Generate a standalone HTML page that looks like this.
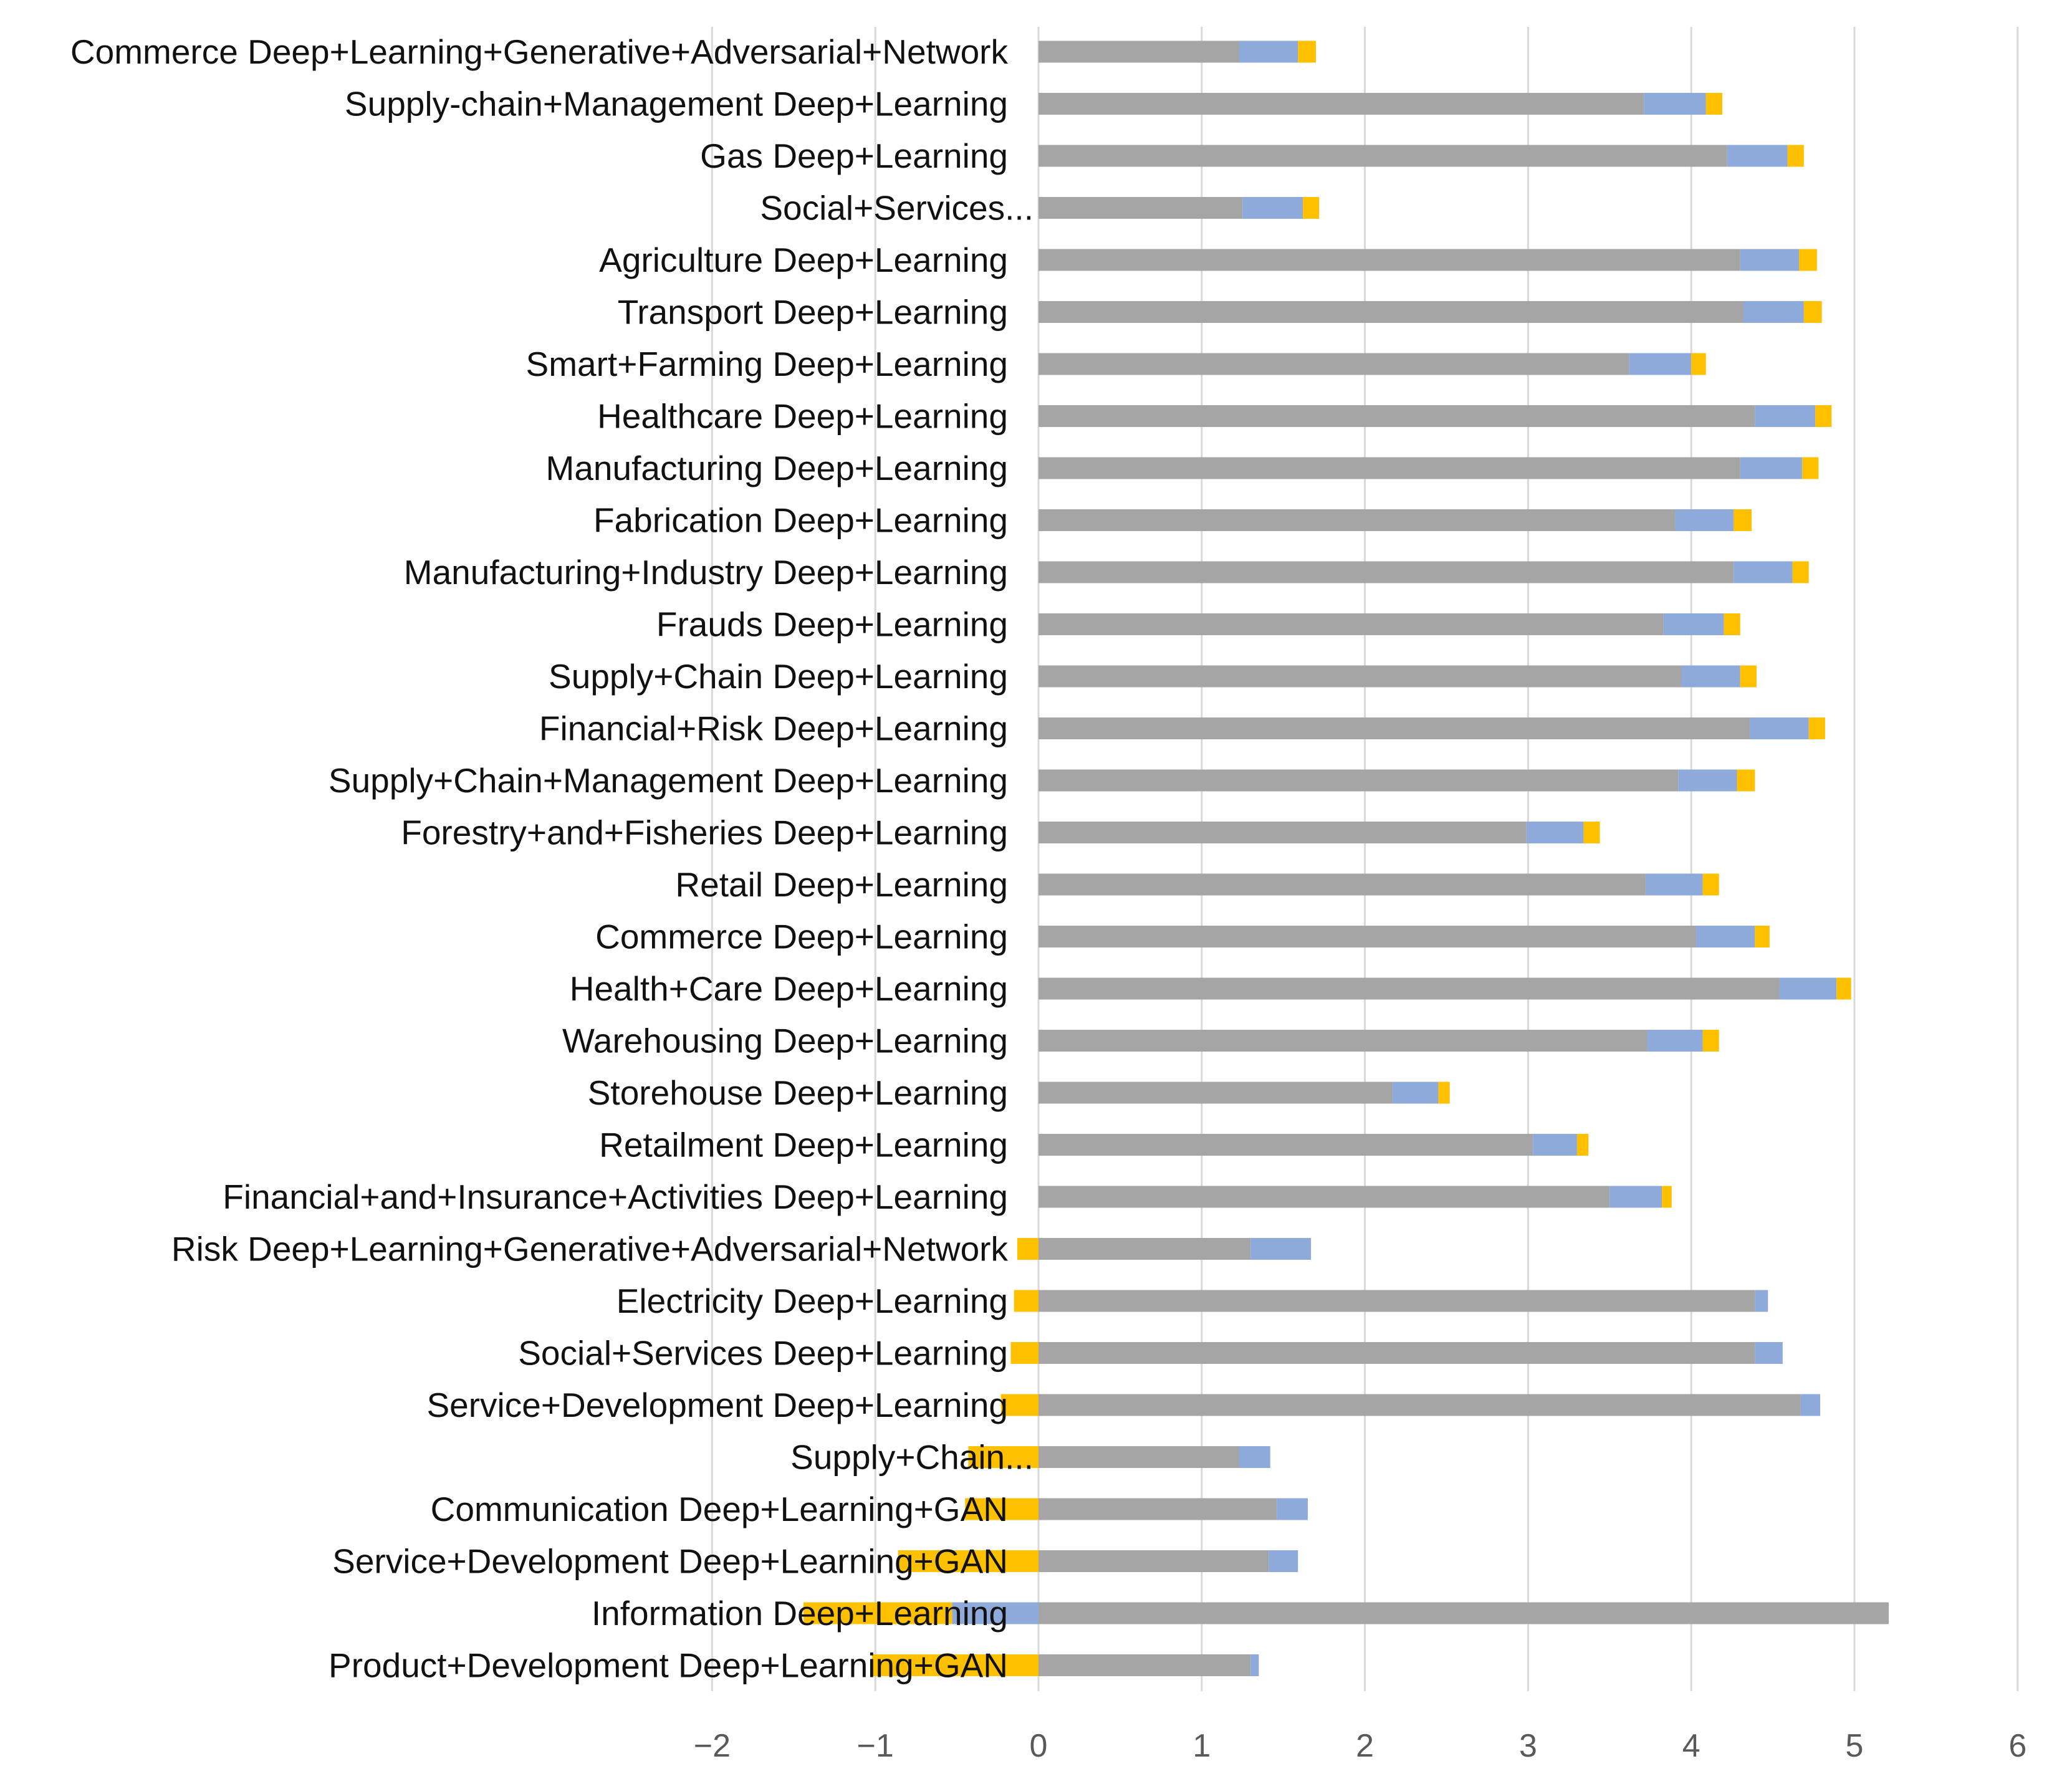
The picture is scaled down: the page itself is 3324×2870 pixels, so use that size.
<!DOCTYPE html>
<html><head><meta charset="utf-8"><style>
html,body{margin:0;padding:0;background:#fff;}
svg{display:block;}
</style></head><body>
<svg id="chart" xmlns="http://www.w3.org/2000/svg" width="3324" height="2870" viewBox="0 0 3324 2870">
<rect width="3324" height="2870" fill="#fff"/>
<g id="grid"></g>
<g id="bars"></g>
<g id="labels"></g>
<g id="ticks"></g>
</svg>
<script>
const categories = ["Commerce Deep+Learning+Generative+Adversarial+Network","Supply-chain+Management Deep+Learning","Gas Deep+Learning","Social+Services...","Agriculture Deep+Learning","Transport Deep+Learning","Smart+Farming Deep+Learning","Healthcare Deep+Learning","Manufacturing Deep+Learning","Fabrication Deep+Learning","Manufacturing+Industry Deep+Learning","Frauds Deep+Learning","Supply+Chain Deep+Learning","Financial+Risk Deep+Learning","Supply+Chain+Management Deep+Learning","Forestry+and+Fisheries Deep+Learning","Retail Deep+Learning","Commerce Deep+Learning","Health+Care Deep+Learning","Warehousing Deep+Learning","Storehouse Deep+Learning","Retailment Deep+Learning","Financial+and+Insurance+Activities Deep+Learning","Risk Deep+Learning+Generative+Adversarial+Network","Electricity Deep+Learning","Social+Services Deep+Learning","Service+Development Deep+Learning","Supply+Chain...","Communication Deep+Learning+GAN","Service+Development Deep+Learning+GAN","Information Deep+Learning","Product+Development Deep+Learning+GAN"];
const seriesGray = [1.23,3.71,4.22,1.25,4.30,4.32,3.62,4.39,4.30,3.90,4.26,3.83,3.94,4.36,3.92,2.99,3.72,4.03,4.54,3.73,2.17,3.03,3.50,1.30,4.39,4.39,4.67,1.23,1.46,1.41,5.21,1.30];
const seriesBlue = [0.36,0.38,0.37,0.37,0.36,0.37,0.38,0.37,0.38,0.36,0.36,0.37,0.36,0.36,0.36,0.35,0.35,0.36,0.35,0.34,0.28,0.27,0.32,0.37,0.08,0.17,0.12,0.19,0.19,0.18,-0.53,0.05];
const seriesYellow = [0.11,0.10,0.10,0.10,0.11,0.11,0.09,0.10,0.10,0.11,0.10,0.10,0.10,0.10,0.11,0.10,0.10,0.09,0.09,0.10,0.07,0.07,0.06,-0.13,-0.15,-0.17,-0.23,-0.43,-0.45,-0.86,-0.91,-1.02];
const tickValues = [-2,-1,0,1,2,3,4,5,6];

const NS="http://www.w3.org/2000/svg";
const X0=1666, UNIT=261.8, TOP=43, BOTTOM=2713, ROW0=83, ROWSTEP=83.5, BARH=35;
function xScale(v){return X0+v*UNIT;}
function yScale(i){return ROW0+i*ROWSTEP;}
function mk(tag,attrs){const e=document.createElementNS(NS,tag);for(const k in attrs)e.setAttribute(k,attrs[k]);return e;}
const grid=document.getElementById('grid'),bars=document.getElementById('bars'),labels=document.getElementById('labels'),ticks=document.getElementById('ticks');
tickValues.forEach(t=>{
  const l=mk('line',{x1:xScale(t),x2:xScale(t),y1:TOP,y2:BOTTOM,stroke:'#d9d9d9','stroke-width':3});
  
  
  grid.appendChild(l);
  const tx=mk('text',{x:xScale(t),y:2818,'text-anchor':'middle','font-family':'Liberation Sans, sans-serif','font-size':52,fill:'#595959'});
  tx.textContent=(t<0?'\u2212'+Math.abs(t):String(t));
  
  
  ticks.appendChild(tx);
});
const series=[[seriesGray,'#a5a5a5','gray'],[seriesBlue,'#8eaadb','blue'],[seriesYellow,'#ffc000','yellow']];
categories.forEach((c,i)=>{
  let pos=0,neg=0;const yc=yScale(i);
  series.forEach(([arr,col,nm])=>{
    const v=arr[i];let a,b;
    if(v>=0){a=pos;b=pos+v;pos=b;}else{a=neg+v;b=neg;neg=a;}
    const r=mk('rect',{x:xScale(a),y:yc-BARH/2,width:Math.max(0,xScale(b)-xScale(a)),height:BARH,fill:col});
    
    
    bars.appendChild(r);
  });
  const trunc=c.endsWith('...');
  const t=mk('text',{x:trunc?1658:1617,y:yc+19,'text-anchor':'end','font-family':'Liberation Sans, sans-serif','font-size':55,fill:'#111'});
  t.textContent=c;
  
  
  labels.appendChild(t);
});
</script>
</body></html>
